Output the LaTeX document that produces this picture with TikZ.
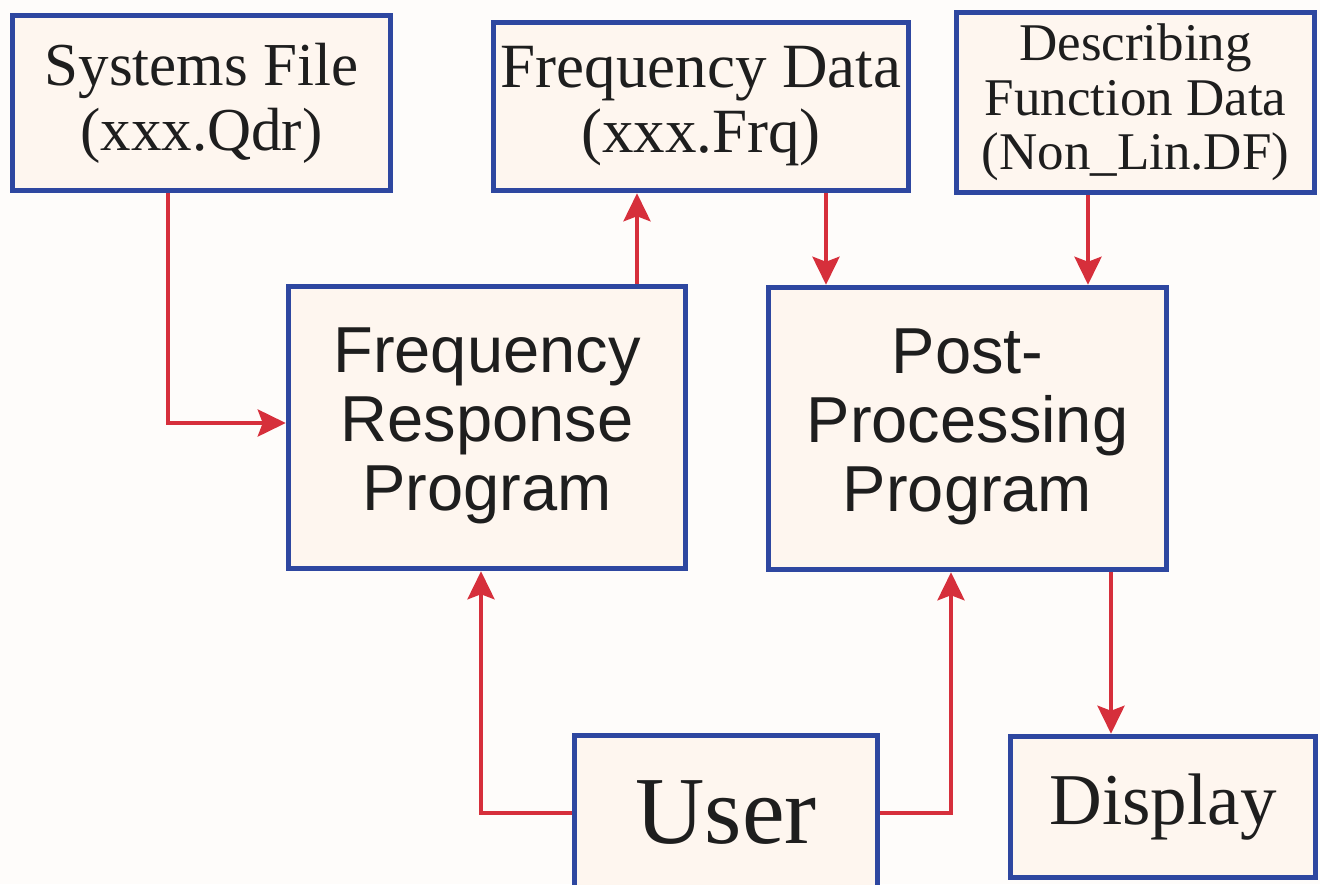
\documentclass[tikz,border=0pt]{standalone}
\usepackage{fontspec}
\setmainfont{Liberation Serif}
\newfontfamily\arialfont{Liberation Sans}
\usetikzlibrary{arrows.meta}

\definecolor{boxblue}{HTML}{2E47A0}
\definecolor{boxfill}{HTML}{FEF6EF}
\definecolor{linkred}{HTML}{D62F3B}
\definecolor{paper}{HTML}{FEFCFA}
\definecolor{ink}{HTML}{1E1E1E}

\tikzset{
  block/.style={draw=boxblue, line width=5.5pt, fill=boxfill, text=ink,
    inner sep=0pt, align=center, rectangle},
  serifbig/.style={font=\fontsize{61}{65}\selectfont},
  sanslabel/.style={font=\arialfont\fontsize{65}{69}\selectfont},
  link/.style={draw=linkred, line width=4pt,
    -{Stealth[length=28pt,width=27pt,inset=5pt]}},
}

\begin{document}
\begin{tikzpicture}[x=1pt,y=-1pt]
  % canvas
  \fill[paper] (0,0) rectangle (1320,884);
  \useasboundingbox (0,0) rectangle (1320,884);

  % data files
  \node[block, serifbig, minimum width=378pt, minimum height=175pt]
    (sf) at (201.5,103) {Systems File\\(xxx.Qdr)};
  \node[block, font=\fontsize{63}{65}\selectfont,
    minimum width=415pt, minimum height=168pt]
    (fd) at (701,106.5) {Frequency Data\\(xxx.Frq)};
  \node[block, font=\fontsize{53}{54.5}\selectfont,
    minimum width=358pt, minimum height=180pt]
    (df) at (1135.5,102.5) {Describing\\Function Data\\(Non\_Lin.DF)};

  % programs (text lifted slightly above the box centre)
  \node[block, sanslabel, minimum width=397pt, minimum height=282pt]
    (frp) at (487,427.5) {\raisebox{5pt}{\begin{tabular}{@{}c@{}}Frequency\\Response\\Program\end{tabular}}};
  \node[block, sanslabel, minimum width=398pt, minimum height=282pt]
    (ppp) at (967.5,428.5) {\raisebox{5pt}{\begin{tabular}{@{}c@{}}Post-\\Processing\\Program\end{tabular}}};

  % user and output
  \node[block, font=\fontsize{96}{100}\selectfont,
    minimum width=303pt, minimum height=155pt]
    (user) at (726,813) {User};
  \node[block, font=\fontsize{73}{78}\selectfont,
    minimum width=305pt, minimum height=141pt]
    (disp) at (1163,807) {Display};

  % connection points
  \coordinate (sfout) at ([xshift=-33.5]sf.south);
  \coordinate (frpin) at ([yshift=4.5]frp.west);
  \coordinate (frpout) at ([xshift=150]frp.north);
  \coordinate (fdout) at ([xshift=125]fd.south);
  \coordinate (dfout) at ([xshift=-47.5]df.south);
  \coordinate (pppout) at ([xshift=143.5]ppp.south);
  \coordinate (frpup) at ([xshift=-6]frp.south);
  \coordinate (pppup) at ([xshift=-16.5]ppp.south);

  % connectors
  \draw[link] (sfout) |- (frpin);
  \draw[link] (frpout) -- (frpout |- fd.south);
  \draw[link] (fdout) -- (fdout |- ppp.north);
  \draw[link] (dfout) -- (dfout |- ppp.north);
  \draw[link] (pppout) -- (pppout |- disp.north);
  \draw[link] (user.west) -| (frpup);
  \draw[link] (user.east) -| (pppup);
\end{tikzpicture}
\end{document}
